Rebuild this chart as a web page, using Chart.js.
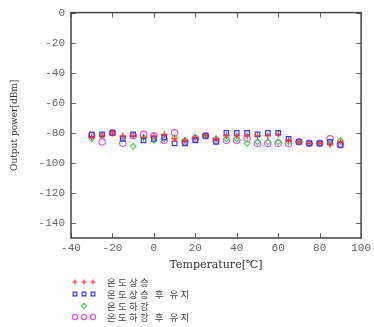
<!DOCTYPE html>
<html><head><meta charset="utf-8">
<script src="https://cdn.jsdelivr.net/npm/chart.js@4/dist/chart.umd.min.js"></script>
<style>html,body{margin:0;padding:0;background:#fff}#wrap{width:374px;height:327px;position:relative}</style>
</head><body><div id="wrap"><canvas id="c"></canvas></div>
<script>
const temps = [-30,-25,-20,-15,-10,-5,0,5,10,15,20,25,30,35,40,45,50,55,60,65,70,75,80,85,90];
const riseValues     = [-83,-82,-80,-82,-82,-83,-82,-81,-84,-85,-83,-82,-84,-82,-82,-82,-82,-82,-81,-85,-86,-87,-87,-88,-86];
const riseHoldValues = [-81,-81,-80,-84,-81,-85,-84,-83,-87,-87,-85,-82,-86,-80,-80,-80,-81,-80,-80,-84,-86,-87,-87,-86,-88];
const fallValues     = [-84,-82,-80,-83,-89,-83,-85,-84,-83,-85,-83,-82,-84,-84,-84,-87,-86,-86,-86,-86,-86,-87,-87,-87,-85];
const fallHoldValues = [-82,-86,-80,-87,-82,-81,-82,-85,-80,-86,-84,-82,-85,-85,-85,-84,-87,-87,-87,-87,-86,-87,-87,-84,-88];
const seriesNames = ['온도상승','온도상승 후 유지','온도하강','온도하강 후 유지'];
const xTicks = [-40,-20,0,20,40,60,80,100];
const yTicks = [0,-20,-40,-60,-80,-100,-120,-140];

function pts(vals){ return temps.map((t,i)=>({x:t,y:vals[i]})); }

const inwardTicks = {
  id:'inwardTicks',
  afterDraw(chart){
    const {ctx, chartArea:a, scales:{x,y}} = chart;
    ctx.save();
    ctx.strokeStyle = '#666';
    ctx.lineWidth = 1;
    const L = 5;
    xTicks.forEach(v=>{
      const px = Math.round(x.getPixelForValue(v))+0.5;
      ctx.beginPath(); ctx.moveTo(px,a.bottom); ctx.lineTo(px,a.bottom-L); ctx.stroke();
      ctx.beginPath(); ctx.moveTo(px,a.top); ctx.lineTo(px,a.top+L); ctx.stroke();
    });
    yTicks.forEach(v=>{
      const py = Math.round(y.getPixelForValue(v))+0.5;
      ctx.beginPath(); ctx.moveTo(a.left,py); ctx.lineTo(a.left+L,py); ctx.stroke();
      ctx.beginPath(); ctx.moveTo(a.right,py); ctx.lineTo(a.right-L,py); ctx.stroke();
    });
    ctx.lineWidth = 1.5;
    ctx.strokeStyle = '#444';
    ctx.strokeRect(a.left, a.top, a.right-a.left, a.bottom-a.top);
    ctx.restore();
  }
};

const gnuLegend = {
  id:'gnuLegend',
  afterDraw(chart){
    const ctx = chart.ctx;
    const rows = [282,294,306,317];
    chart.data.datasets.forEach((ds,i)=>{
      const yy = rows[i];
      const xs = ds.legendSingle ? [84] : [75,84,93];
      ctx.save();
      ctx.strokeStyle = ds.borderColor;
      ctx.fillStyle = 'rgba(0,0,0,0)';
      ctx.lineWidth = ds.borderWidth;
      xs.forEach(px=>{
        Chart.helpers.drawPoint(ctx, {pointStyle:ds.pointStyle, radius:2.6, borderWidth:ds.borderWidth, rotation:0}, px, yy);
      });
      ctx.restore();
      ctx.save();
      ctx.fillStyle = '#444';
      ctx.font = '9.5px "Noto Sans CJK KR"';
      ctx.textBaseline = 'middle';
      ctx.textAlign = 'left';
      let cx = 107;
      for (const ch of ds.label) {
        ctx.fillText(ch, cx, yy);
        cx += ctx.measureText(ch).width + (ch === ' ' ? 1.5 : 2.3);
      }
      ctx.restore();
    });
  }
};

const common = {showLine:false, backgroundColor:'rgba(0,0,0,0)', borderWidth:1.2};
new Chart(document.getElementById('c'), {
  type:'scatter',
  data:{datasets:[
    Object.assign({label:seriesNames[0], data:pts(riseValues), pointStyle:'cross', pointRadius:3.2, borderColor:'#ff3030'}, common),
    Object.assign({label:seriesNames[1], data:pts(riseHoldValues), pointStyle:'rect', pointRadius:3.2, borderColor:'#3a3aee'}, common),
    Object.assign({label:seriesNames[2], data:pts(fallValues), pointStyle:'rectRot', pointRadius:2.8, borderColor:'#55cc55', legendSingle:true}, common),
    Object.assign({label:seriesNames[3], data:pts(fallHoldValues), pointStyle:'circle', pointRadius:3.2, borderColor:'#e055e0'}, common)
  ]},
  options:{
    responsive:true, maintainAspectRatio:false, animation:false,
    layout:{padding:{left:0,right:10,top:11,bottom:55}},
    plugins:{legend:{display:false}, tooltip:{enabled:false}},
    scales:{
      x:{type:'linear', min:-40, max:100,
        afterBuildTicks(s){ s.ticks = xTicks.map(v=>({value:v})); },
        afterFit(s){ s.height = 34; },
        grid:{display:false, drawTicks:false}, border:{display:false},
        ticks:{padding:3, color:'#666', font:{family:'Liberation Mono', size:11}, maxRotation:0, autoSkip:false},
        title:{display:true, text:'Temperature[℃]', color:'#333', font:{family:'DejaVu Serif', size:11}, padding:0}
      },
      y:{type:'linear', min:-150, max:0,
        afterBuildTicks(s){ s.ticks = yTicks.map(v=>({value:v})); },
        afterFit(s){ s.width = 71; },
        grid:{display:false, drawTicks:false}, border:{display:false},
        ticks:{padding:6, color:'#666', font:{family:'Liberation Mono', size:11}, autoSkip:false},
        title:{display:true, text:'Output power[dBm]', color:'#333', font:{family:'DejaVu Serif', size:9}, padding:{top:9,bottom:0}}
      }
    }
  },
  plugins:[inwardTicks, gnuLegend]
});
</script></body></html>
